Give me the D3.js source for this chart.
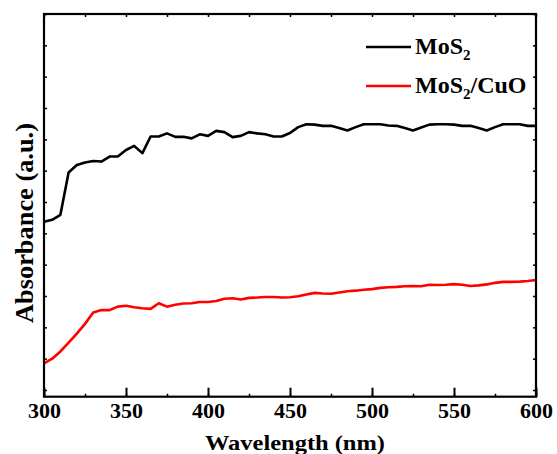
<!DOCTYPE html>
<html><head><meta charset="utf-8">
<script src="https://cdn.jsdelivr.net/npm/d3@7"></script>
<style>body{margin:0;background:#fff}svg{display:block}text{font-family:"Liberation Serif","Times New Roman",serif;font-weight:bold}</style>
</head><body>
<svg id="c" width="557" height="454"></svg>
<script>
const wavelengths = d3.range(300, 601, 5);
const mos2 = [0.537,0.543,0.559,0.694,0.718,0.726,0.731,0.729,0.745,0.745,0.766,0.779,0.756,0.809,0.809,0.819,0.808,0.808,0.803,0.816,0.811,0.827,0.823,0.807,0.811,0.823,0.819,0.816,0.809,0.809,0.820,0.839,0.848,0.847,0.843,0.843,0.836,0.828,0.839,0.848,0.848,0.848,0.844,0.843,0.836,0.828,0.838,0.847,0.848,0.848,0.847,0.843,0.843,0.836,0.828,0.839,0.848,0.848,0.848,0.843,0.843];
const mos2cuo = [0.085,0.100,0.123,0.151,0.180,0.211,0.247,0.255,0.255,0.266,0.269,0.264,0.261,0.259,0.277,0.266,0.272,0.276,0.277,0.281,0.281,0.284,0.291,0.293,0.289,0.294,0.295,0.297,0.297,0.295,0.296,0.299,0.305,0.310,0.308,0.307,0.311,0.315,0.317,0.320,0.322,0.326,0.328,0.329,0.331,0.332,0.331,0.336,0.335,0.336,0.338,0.336,0.332,0.334,0.337,0.342,0.345,0.345,0.346,0.348,0.351];
const xTickLabels = [300,350,400,450,500,550,600];
const xMinorTicks = d3.range(300, 601, 25);
const yTicks = d3.range(0, 1.2001, 0.1);
const seriesNames = ["MoS2", "MoS2/CuO"];
const seriesColors = ["#000000", "#ff0000"];

const L = 44, R = 536, T = 14, B = 396.7;
const svg = d3.select("#c");
const x = d3.scaleLinear().domain([300, 600]).range([L, R]);
const y = d3.scaleLinear().domain([-0.0214, 1.2]).range([B, T]);

const line = d3.line().x((d,i)=>x(wavelengths[i])).y(d=>y(d));
[mos2, mos2cuo].forEach((s,i)=>{
  svg.append("path").datum(s).attr("d", line).attr("fill","none")
    .attr("stroke", seriesColors[i]).attr("stroke-width", 2.6).attr("stroke-linejoin","round");
});

// Axes
const g = svg.append("g");
g.append("g").attr("transform",`translate(0,${B})`)
  .call(d3.axisBottom(x).tickValues(xMinorTicks).tickSize(-3).tickFormat(""))
  .call(a=>a.select(".domain").remove()).selectAll("line").attr("stroke-width",1.5);
g.append("g").attr("transform",`translate(0,${B})`)
  .call(d3.axisBottom(x).tickValues(xTickLabels).tickSize(-9).tickFormat(d3.format("d")))
  .call(a=>a.select(".domain").remove())
  .call(a=>a.selectAll("line").attr("stroke-width",2))
  .call(a=>a.selectAll("text").attr("font-size",22).attr("fill","#000").attr("dy",null).attr("y",418-B));
g.append("g").attr("transform",`translate(0,${T})`)
  .call(d3.axisTop(x).tickValues(xMinorTicks).tickSize(-3).tickFormat(""))
  .call(a=>a.select(".domain").remove()).selectAll("line").attr("stroke-width",1.5);
g.append("g").attr("transform",`translate(${L},0)`)
  .call(d3.axisLeft(y).tickValues(yTicks).tickSize(-3).tickFormat(""))
  .call(a=>a.select(".domain").remove()).selectAll("line").attr("stroke-width",1.5);
g.append("g").attr("transform",`translate(${R},0)`)
  .call(d3.axisRight(y).tickValues(yTicks).tickSize(-3).tickFormat(""))
  .call(a=>a.select(".domain").remove()).selectAll("line").attr("stroke-width",1.5);
svg.append("rect").attr("x",L).attr("y",T).attr("width",R-L).attr("height",B-T)
  .attr("fill","none").attr("stroke","#000").attr("stroke-width",2.2);

// Axis titles
svg.append("text").attr("x",295).attr("y",450).attr("text-anchor","middle")
  .attr("font-size",22).attr("textLength",180).attr("lengthAdjust","spacingAndGlyphs").text("Wavelength (nm)");
svg.append("text").attr("transform",`translate(33,223) rotate(-90)`).attr("text-anchor","middle")
  .attr("font-size",25).attr("textLength",200).attr("lengthAdjust","spacingAndGlyphs").text("Absorbance (a.u.)");

// Legend
const leg = svg.append("g");
[47, 86].forEach((ly,i)=>{
  leg.append("line").attr("x1",366).attr("x2",411).attr("y1",ly).attr("y2",ly)
    .attr("stroke",seriesColors[i]).attr("stroke-width",2.6);
  const t = leg.append("text").attr("x",415).attr("y",ly+7).attr("font-size",24).attr("fill","#000");
  const parts = seriesNames[i].split("2");
  t.append("tspan").text(parts[0]);
  t.append("tspan").attr("font-size",15).attr("dy",6).text("2");
  if (parts[1]) t.append("tspan").attr("dy",-6).text(parts[1]);
});
</script>
</body></html>
